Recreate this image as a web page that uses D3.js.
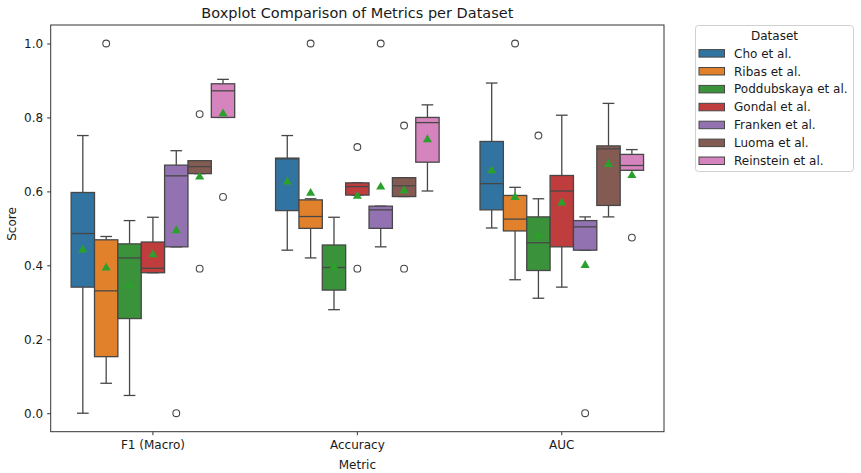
<!DOCTYPE html>
<html>
<head>
<meta charset="utf-8">
<script src="https://cdn.jsdelivr.net/npm/d3@7"></script>
<style>
  body { margin: 0; background: #fff; }
  svg { font-family: "DejaVu Sans", sans-serif; }
</style>
</head>
<body>
<svg id="chart" width="861" height="473"></svg>
<script>
// ---------- data ----------
const metrics = ["F1 (Macro)", "Accuracy", "AUC"];
const datasets = ["Cho et al.", "Ribas et al.", "Poddubskaya et al.", "Gondal et al.", "Franken et al.", "Luoma et al.", "Reinstein et al."];
const colors = ["#3274a1", "#e1812c", "#3a923a", "#c03d3e", "#9372b2", "#845b53", "#d684bd"];
const yTicks = [0.0, 0.2, 0.4, 0.6, 0.8, 1.0];

// rows = metrics, columns = datasets
const whiskerLow = [
  [0.000, 0.081, 0.048, 0.380, 0.450, 0.648, 0.800],
  [0.441, 0.420, 0.280, 0.590, 0.450, 0.586, 0.601],
  [0.501, 0.361, 0.311, 0.341, 0.441, 0.531, 0.657]
];
const q1 = [
  [0.341, 0.153, 0.256, 0.380, 0.450, 0.648, 0.800],
  [0.548, 0.500, 0.333, 0.590, 0.500, 0.586, 0.679],
  [0.550, 0.493, 0.386, 0.450, 0.441, 0.562, 0.657]
];
const median = [
  [0.486, 0.331, 0.420, 0.392, 0.642, 0.667, 0.872],
  [0.688, 0.532, 0.394, 0.613, 0.550, 0.615, 0.786],
  [0.621, 0.525, 0.461, 0.601, 0.504, 0.715, 0.670]
];
const q3 = [
  [0.597, 0.469, 0.458, 0.463, 0.671, 0.683, 0.891],
  [0.690, 0.577, 0.455, 0.623, 0.560, 0.637, 0.800],
  [0.735, 0.589, 0.531, 0.643, 0.521, 0.723, 0.700]
];
const whiskerHigh = [
  [0.751, 0.478, 0.521, 0.530, 0.710, 0.683, 0.903],
  [0.751, 0.580, 0.530, 0.623, 0.560, 0.637, 0.834],
  [0.893, 0.611, 0.580, 0.806, 0.531, 0.838, 0.713]
];
const means = [
  [0.442, 0.393, 0.346, 0.429, 0.494, 0.639, 0.810],
  [0.626, 0.595, 0.396, 0.587, 0.612, 0.602, 0.740],
  [0.656, 0.584, 0.480, 0.569, 0.400, 0.673, 0.643]
];
const outliers = [
  [[], [1.0], [], [], [0.0], [0.809, 0.391], [0.585]],
  [[], [1.0], [], [0.720, 0.391], [1.0], [0.778, 0.391], []],
  [[], [1.0], [0.751], [], [0.0], [], [0.475]]
];

// ---------- layout ----------
const svg = d3.select("#chart");
const mLeft = 50.7, mRight = 664, mTop = 25, mBottom = 431.7;
const lineCol = "#474747";
const txtCol = "#1a1a1a";

const x = d3.scaleBand().domain(metrics).range([mLeft, mRight]).paddingInner(0).paddingOuter(0);
const bw = x.bandwidth();
const xh = d3.scaleBand().domain(datasets).range([bw * 0.1, bw * 0.9]).padding(0);
const boxW = xh.bandwidth();
const y = d3.scaleLinear().domain([-0.05, 1.05]).range([mBottom, mTop]);

// title
svg.append("text").attr("x", (mLeft + mRight) / 2).attr("y", 18)
  .attr("text-anchor", "middle").attr("font-size", 14.5).attr("fill", txtCol)
  .text("Boxplot Comparison of Metrics per Dataset");

// boxes
const g = svg.append("g");
metrics.forEach((m, mi) => {
  datasets.forEach((d, di) => {
    const x0 = x(m) + xh(d);
    const cx = x0 + boxW / 2;
    const grp = g.append("g");
    grp.append("line").attr("x1", cx).attr("x2", cx)
      .attr("y1", y(q3[mi][di])).attr("y2", y(whiskerHigh[mi][di]))
      .attr("stroke", lineCol).attr("stroke-width", 1.3);
    grp.append("line").attr("x1", cx).attr("x2", cx)
      .attr("y1", y(q1[mi][di])).attr("y2", y(whiskerLow[mi][di]))
      .attr("stroke", lineCol).attr("stroke-width", 1.3);
    [whiskerHigh[mi][di], whiskerLow[mi][di]].forEach(v => {
      grp.append("line").attr("x1", cx - boxW / 4).attr("x2", cx + boxW / 4)
        .attr("y1", y(v)).attr("y2", y(v))
        .attr("stroke", lineCol).attr("stroke-width", 1.3);
    });
    grp.append("rect").attr("x", x0).attr("width", boxW)
      .attr("y", y(q3[mi][di])).attr("height", Math.max(0.5, y(q1[mi][di]) - y(q3[mi][di])))
      .attr("fill", colors[di]).attr("stroke", lineCol).attr("stroke-width", 1.3);
    grp.append("line").attr("x1", x0).attr("x2", x0 + boxW)
      .attr("y1", y(median[mi][di])).attr("y2", y(median[mi][di]))
      .attr("stroke", lineCol).attr("stroke-width", 1.3);
    outliers[mi][di].forEach(v => {
      grp.append("circle").attr("cx", cx).attr("cy", y(v)).attr("r", 3.4)
        .attr("fill", "none").attr("stroke", lineCol).attr("stroke-width", 1.1);
    });
    grp.append("path")
      .attr("d", d3.symbol().type(d3.symbolTriangle).size(36))
      .attr("transform", `translate(${cx},${y(means[mi][di])})`)
      .attr("fill", "#2ca02c");
  });
});

// axes frame
svg.append("rect").attr("x", mLeft).attr("y", mTop).attr("width", mRight - mLeft).attr("height", mBottom - mTop)
  .attr("fill", "none").attr("stroke", "#333").attr("stroke-width", 1);

// y axis
const yAxis = svg.append("g").attr("transform", `translate(${mLeft},0)`)
  .call(d3.axisLeft(y).tickValues(yTicks).tickFormat(d3.format(".1f")).tickSize(3.5).tickPadding(4));
yAxis.select(".domain").remove();
yAxis.selectAll("text").attr("font-size", 12).attr("fill", txtCol).attr("font-family", "DejaVu Sans");
yAxis.selectAll("line").attr("stroke", "#333");

// x axis
const xAxis = svg.append("g").attr("transform", `translate(0,${mBottom})`)
  .call(d3.axisBottom(x).tickSize(3.5).tickPadding(5));
xAxis.select(".domain").remove();
xAxis.selectAll("text").attr("font-size", 12).attr("fill", txtCol).attr("font-family", "DejaVu Sans");
xAxis.selectAll("line").attr("stroke", "#333");

// axis labels
svg.append("text").attr("x", (mLeft + mRight) / 2).attr("y", 468.5)
  .attr("text-anchor", "middle").attr("font-size", 12).attr("fill", txtCol).text("Metric");
svg.append("text").attr("transform", `translate(15.5,224) rotate(-90)`)
  .attr("text-anchor", "middle").attr("font-size", 12).attr("fill", txtCol).text("Score");

// legend
const lg = svg.append("g");
lg.append("rect").attr("x", 695.5).attr("y", 25.5).attr("width", 158).attr("height", 146).attr("rx", 3)
  .attr("fill", "#fff").attr("stroke", "#d0d0d0").attr("stroke-width", 1);
lg.append("text").attr("x", 774.5).attr("y", 39.5).attr("text-anchor", "middle")
  .attr("font-size", 12).attr("fill", txtCol).text("Dataset");
datasets.forEach((d, i) => {
  const yy = 53.3 + i * 17.9;
  lg.append("rect").attr("x", 699).attr("y", yy - 3.7).attr("width", 25.5).attr("height", 7.5)
    .attr("fill", colors[i]).attr("stroke", lineCol).attr("stroke-width", 1);
  lg.append("text").attr("x", 734).attr("y", yy + 4.3)
    .attr("font-size", 12).attr("fill", txtCol).text(d);
});
</script>
</body>
</html>
